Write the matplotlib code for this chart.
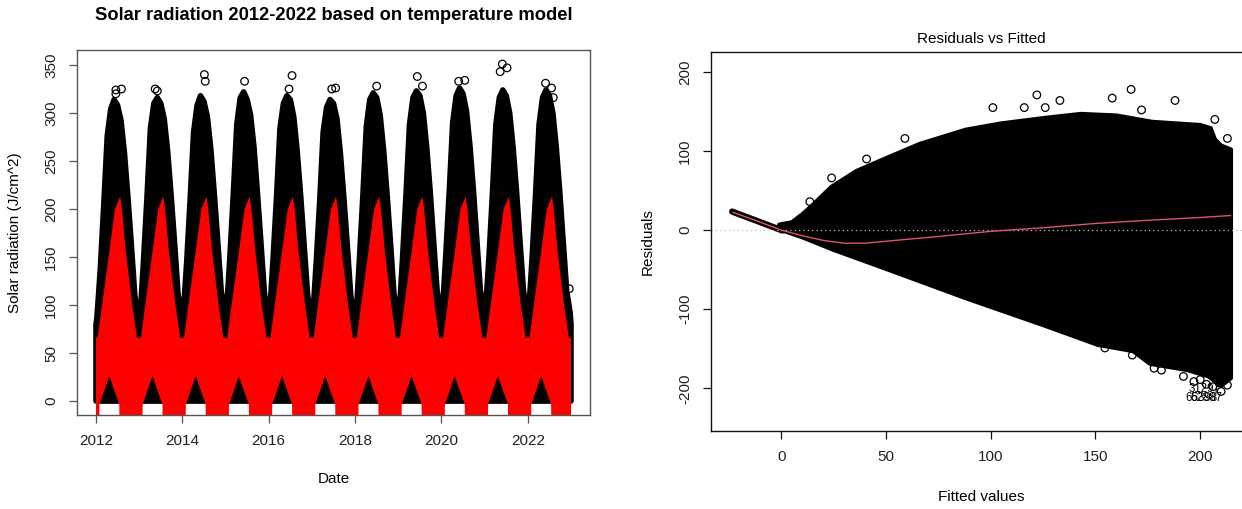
import numpy as np
import matplotlib.pyplot as plt

plt.rcParams["font.family"] = ["Liberation Sans", "DejaVu Sans"]
plt.rcParams["axes.unicode_minus"] = False

# ------------------------------------------------------------------
# left panel: observed (black) vs model (red), read off the picture
# ------------------------------------------------------------------
years = [2012, 2013, 2014, 2015, 2016, 2017, 2018, 2019, 2020, 2021, 2022]

# position inside each year where the observed upper edge was read
season_pos = [0.02, 0.10, 0.18, 0.26, 0.34, 0.42, 0.50, 0.58, 0.66, 0.74, 0.82, 0.90, 0.98]
obs_upper = [
    [86, 138, 205, 276, 304, 314, 308, 292, 258, 212, 162, 110, 84],
    [88, 146, 212, 284, 310, 316, 310, 294, 260, 214, 165, 112, 88],
    [90, 145, 210, 280, 308, 318, 312, 296, 262, 216, 166, 115, 90],
    [92, 150, 216, 288, 316, 322, 314, 298, 264, 216, 165, 113, 88],
    [90, 148, 212, 284, 310, 318, 314, 296, 260, 214, 163, 111, 86],
    [88, 145, 208, 280, 306, 314, 310, 294, 258, 212, 162, 110, 84],
    [86, 148, 214, 286, 314, 321, 316, 298, 262, 216, 165, 112, 88],
    [90, 150, 216, 288, 316, 323, 318, 300, 264, 218, 166, 115, 90],
    [92, 152, 218, 290, 318, 326, 320, 302, 266, 220, 168, 116, 92],
    [94, 150, 216, 288, 316, 324, 318, 300, 264, 218, 166, 115, 90],
    [92, 150, 216, 288, 316, 324, 318, 300, 264, 218, 166, 115, 92],
]
obs_start, obs_end = 2012.0, 2023.0
obs_floor = 0

obs_out_date = [2012.46, 2012.59, 2012.46, 2013.37, 2013.42, 2014.51, 2014.53, 2015.44,
                2016.54, 2016.47, 2017.46, 2017.55, 2018.50, 2019.44, 2019.56, 2020.40,
                2020.54, 2021.41, 2021.36, 2021.52, 2022.41, 2022.55, 2022.59, 2022.96]
obs_out_value = [324, 325, 320, 325, 323, 340, 333, 333,
                 339, 325, 325, 326, 328, 338, 328, 333,
                 334, 351, 343, 347, 331, 326, 316, 117]

# model band: same seasonal shape every year
model_top_pos = [0.00, 0.04, 0.14, 0.31, 0.44, 0.56, 0.60, 0.69, 0.84, 0.95, 1.00]
model_top = [66, 66, 100, 156, 200, 213, 200, 156, 100, 66, 66]
model_low_pos = [0.00, 0.075, 0.08, 0.31, 0.54, 0.545, 1.00]
model_low = [-30, -30, -3.5, 26, -3.5, -30, -30]

# ------------------------------------------------------------------
# right panel: residuals vs fitted
# ------------------------------------------------------------------
band_fit = [-23.5, 0.5]
band_res = [23.5, -0.5]

cloud_top_fit = [-1, 5, 10, 15, 24, 36, 50, 66, 88, 105, 126, 143, 160, 177, 194, 200, 205, 207, 210, 214.7]
cloud_top_res = [7, 10, 20, 32, 55, 75, 91, 109, 127, 135, 142, 147, 145, 137, 134, 133, 129, 115, 107, 102]
cloud_low_fit = [-1, 10, 25, 50, 88, 126, 151, 168, 176, 194, 204, 210, 214.7]
cloud_low_res = [1, -9, -25, -49, -86, -121, -145, -153, -169, -177, -185, -197, -187]

out_fit = [101, 122, 133, 158, 167, 188, 116, 126, 59, 13.6, 24, 40.7, 172, 207, 213,
           178, 181.5, 167.6, 154.5, 197, 200, 210, 213, 209, 206, 192, 203]
out_res = [155, 171, 164, 167, 178, 164, 155, 155, 116, 36, 66, 90, 152, 140, 116,
           -174.6, -177, -158, -149, -191.5, -189, -204, -196, -193, -198, -185, -195]

smooth_fit = [-23, -10, 0, 10, 20, 30, 40, 50, 75, 100, 125, 150, 175, 200, 214.5]
smooth_res = [22.5, 10, 0, -7, -13, -16.5, -16.5, -14, -8, -1.5, 3, 8.5, 12.5, 16, 18.5]

id_labels = ["65398", "62887", "31297"]
id_fit = [208.5, 210.5, 209.5]
id_res = [-212, -212, -201]

# ------------------------------------------------------------------
fig = plt.figure(figsize=(12.42, 5.09), dpi=100)
W, H = 1242, 509

ax1 = fig.add_axes([77 / W, (H - 415) / H, 513 / W, 365 / H])
ax2 = fig.add_axes([711 / W, (H - 431) / H, 540.7 / W, 379 / H])


def r_style(ax, edge):
    for s in ax.spines.values():
        s.set_color(edge)
        s.set_linewidth(1.0)
    ax.tick_params(direction="out", length=6, width=0.9, colors=edge,
                   labelcolor="#222222", labelsize=11)
    ax.tick_params(axis="y", labelrotation=90, pad=7.5)
    ax.tick_params(axis="x", pad=8)
    for lab in ax.get_yticklabels():
        lab.set_verticalalignment("center")


# left panel
obs_x = [obs_start, obs_start]
obs_y = [obs_floor, 80]
for yr, row in zip(years, obs_upper):
    obs_x += [yr + p for p in season_pos]
    obs_y += row
obs_x += [obs_end, obs_end]
obs_y += [80, obs_floor]
ax1.fill(obs_x, obs_y, color="black", lw=4, joinstyle="round")
ax1.scatter(obs_out_date, obs_out_value, s=30, facecolors="none", edgecolors="black", linewidths=0.9)

top_x, top_y, low_x, low_y = [], [], [], []
for yr in years:
    top_x += [yr + p for p in model_top_pos]
    top_y += model_top
    low_x += [yr + p for p in model_low_pos]
    low_y += model_low
ax1.fill(top_x + low_x[::-1], top_y + low_y[::-1], color="#FF0000", lw=0)

ax1.set_xlim(2011.56, 2023.44)
ax1.set_ylim(-14.5, 365.6)
ax1.set_xticks(range(2012, 2023, 2))
ax1.set_yticks(range(0, 351, 50))
r_style(ax1, "#555555")
ax1.set_xlabel("Date", fontsize=11)
ax1.set_ylabel("Solar radiation (J/cm^2)", fontsize=11)
ax1.xaxis.set_label_coords(0.5, -0.175)
ax1.yaxis.set_label_coords(-0.121, 0.5)
ax1.xaxis.label.set_verticalalignment("center")
ax1.yaxis.label.set_verticalalignment("center")
ax1.text(0.5, 1.095, "Solar radiation 2012-2022 based on temperature model",
         transform=ax1.transAxes, ha="center", va="center", fontsize=13.2, fontweight="bold")

# right panel
ax2.plot(band_fit, band_res, color="black", lw=4.5, solid_capstyle="round")
ax2.fill(cloud_top_fit + cloud_low_fit[::-1], cloud_top_res + cloud_low_res[::-1],
         color="black", lw=3, joinstyle="round")
ax2.scatter(out_fit, out_res, s=30, facecolors="none", edgecolors="black", linewidths=0.9)
ax2.axhline(0, color="#BEBEBE", lw=0.9, ls=(0, (1, 2.5)))
ax2.plot(smooth_fit, smooth_res, color="#DF536B", lw=1.0)
for lab, fx, ry in zip(id_labels, id_fit, id_res):
    ax2.text(fx, ry, lab, ha="right", va="center", fontsize=8.3)

ax2.set_xlim(-33.6, 224.6)
ax2.set_ylim(-254, 225.3)
ax2.set_xticks(range(0, 201, 50))
ax2.set_yticks(range(-200, 201, 100))
r_style(ax2, "#111111")
ax2.set_xlabel("Fitted values", fontsize=11)
ax2.set_ylabel("Residuals", fontsize=11)
ax2.xaxis.set_label_coords(0.5, -0.174)
ax2.yaxis.set_label_coords(-0.1165, 0.5)
ax2.xaxis.label.set_verticalalignment("center")
ax2.yaxis.label.set_verticalalignment("center")
ax2.text(0.5, 1.033, "Residuals vs Fitted", transform=ax2.transAxes,
         ha="center", va="center", fontsize=11)

fig.savefig("out.png", dpi=100)
plt.close(fig)
